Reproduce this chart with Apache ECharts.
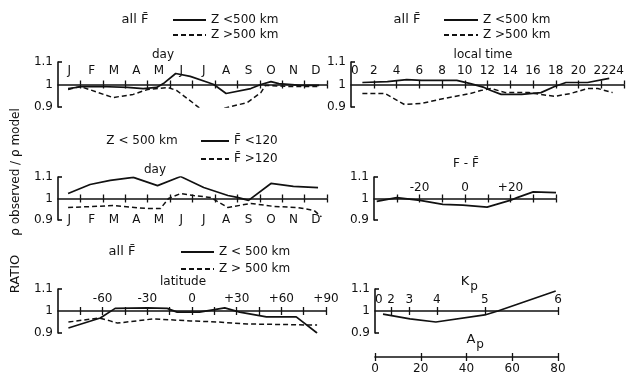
<!DOCTYPE html>
<html><head><meta charset="utf-8">
<script src="https://cdn.jsdelivr.net/npm/echarts@6/dist/echarts.min.js"></script>
<style>html,body{margin:0;padding:0;background:#fff}#c{width:627px;height:377px}</style>
</head><body><div id="c"></div>
<script>
// ---------- tick labels ----------
const monthNames = ['J','F','M','A','M','J','J','A','S','O','N','D'];
const monthLabelPos = [0.5,1.5,2.5,3.5,4.5,5.5,6.5,7.5,8.5,9.5,10.5,11.5];
const monthTickPos = [1,2,3,4,5,6,7,8,9,10,11,12];
const hourLabels = [0,2,4,6,8,10,12,14,16,18,20,22,24];
const hourTicks = [2,4,6,8,10,12,14,16,18,20,22,24];
const dfLabels = [-20,0,20];
const dfTicks = [-30,-20,-10,0,10,20,30,40];
const latLabels = [-60,-30,0,30,60,90];
const latTicks = [-75,-60,-45,-30,-15,0,15,30,45,60,75,90];
const kpTickAp = [0,7,15,27,48,80];
const kpTickText = ['0','2','3','4','5','6'];
const apLabels = [0,20,40,60,80];

// ---------- data (ratio rho observed / rho model) ----------
// Panel A: day of year (months), all F-bar
const dayLowAX = [0.45,1.12,1.88,3.1,3.8,4.4,4.7,5.25,5.9,6.7,6.95,7.5,8.6,9.05,9.5,9.85,10.85,11.65];
const dayLowAY = [0.982,0.991,0.991,0.987,0.982,0.987,1.004,1.049,1.036,1.009,1.0,0.96,0.982,1.0,1.013,1.004,0.996,0.996];
const dayHighAX = [0.45,1.0,2.45,3.35,4.0,4.9,5.3,6.0,6.55,7.35,8.45,9.05,9.25,10.4,11.65];
const dayHighAY = [0.978,0.991,0.942,0.956,0.978,0.987,0.973,0.92,0.876,0.893,0.92,0.964,0.996,0.991,0.991];
// Panel B: local time
const ltLowX = [1.0,3.2,4.9,6.2,9.3,10.5,11.7,12.3,13.2,15.0,16.7,17.9,18.9,20.8,22.7];
const ltLowY = [1.009,1.013,1.022,1.018,1.018,1.004,0.987,0.973,0.956,0.956,0.964,0.991,1.009,1.009,1.027];
const ltHighX = [1.0,3.0,4.7,6.2,8.2,10.5,11.4,12.3,13.6,15.6,17.9,19.3,20.8,21.7,23.0];
const ltHighY = [0.96,0.96,0.911,0.916,0.938,0.96,0.973,0.982,0.964,0.964,0.947,0.96,0.982,0.982,0.964];
// Panel C: day, Z < 500 km, split by F-bar
const fLowX = [0.45,1.43,2.33,3.36,4.44,5.47,6.5,7.58,8.0,8.5,9.5,10.5,11.6];
const fLowY = [1.023,1.065,1.084,1.098,1.06,1.102,1.051,1.014,1.005,0.991,1.07,1.056,1.051];
const fHighX = [0.45,2.47,4.0,4.57,4.93,5.47,6.05,6.8,7.58,8.6,9.64,10.7,11.43,11.75];
const fHighY = [0.958,0.967,0.953,0.953,1.0,1.023,1.014,1.005,0.958,0.977,0.963,0.958,0.944,0.915];
// Panel D: F - F-bar
const dfX = [-38.8,-30,-19.8,-9.7,-0.9,9.7,19.8,22.9,30,40];
const dfY = [0.987,1.004,0.991,0.973,0.969,0.96,0.991,1.004,1.031,1.027];
// Panel E: latitude
const latLowX = [-83,-61.6,-51.6,-30,-16.7,-10,5,14,22,32,50,70,84];
const latLowY = [0.923,0.968,1.012,1.014,1.012,0.995,0.995,1.005,1.014,0.995,0.973,0.973,0.9];
const latHighX = [-83,-62,-55,-50,-26,-1,17,37,84];
const latHighY = [0.95,0.968,0.955,0.945,0.964,0.955,0.95,0.941,0.936];
// Panel F: Kp / Ap
const apX = [3.5,15.3,26.6,48,53.7,79];
const apY = [0.986,0.964,0.95,0.982,1.0,1.091];

// ---------- build ----------
const FONT = 'DejaVu Sans', INK = '#111';
const grids = [], xAxes = [], yAxes = [], series = [];
const zip = (xs, ys) => xs.map((x, i) => [x, ys[i]]);

function crossAxes(gi, min, max, off, ticks, lbl) {
  const main = xAxes.length;
  xAxes.push({
    type: 'value', gridIndex: gi, min: min, max: max, position: 'bottom', offset: off,
    axisLine: {show: true, onZero: false, lineStyle: {color: INK, width: 1.6}},
    axisTick: {show: true, inside: false, length: 4, customValues: ticks, lineStyle: {color: INK, width: 1.3}},
    axisLabel: Object.assign({show: !!lbl, color: INK, fontFamily: FONT, fontSize: 12,
      showMinLabel: true, showMaxLabel: true, hideOverlap: false}, lbl || {}),
    splitLine: {show: false}
  });
  xAxes.push({
    type: 'value', gridIndex: gi, min: min, max: max, position: 'bottom', offset: off,
    axisLine: {show: false, onZero: false},
    axisTick: {show: true, inside: true, length: 4, customValues: ticks, lineStyle: {color: INK, width: 1.3}},
    axisLabel: {show: false}, splitLine: {show: false}
  });
  return main;
}

function panel(g, x) {
  const gi = grids.length; grids.push(g);
  const xi = crossAxes(gi, x.min, x.max, -g.height / 2, x.ticks, x.label);
  const yi = yAxes.length;
  yAxes.push({
    type: 'value', gridIndex: gi, min: 0.9, max: 1.1, interval: 0.1, position: 'left',
    axisLine: {show: true, onZero: false, lineStyle: {color: INK, width: 1.6}},
    axisTick: {show: true, inside: true, length: 4, customValues: [0.9, 1.1], lineStyle: {color: INK, width: 1.6}},
    axisLabel: {color: INK, fontFamily: FONT, fontSize: 12, margin: 5,
      formatter: v => Math.abs(v - 1) < 1e-9 ? '1' : v.toFixed(1)},
    splitLine: {show: false}
  });
  return {gi: gi, x: xi, y: yi};
}

function line(p, name, data, dashed) {
  series.push({
    type: 'line', name: name, xAxisIndex: p.x, yAxisIndex: p.y, data: data,
    symbol: 'none', silent: true, animation: false,
    lineStyle: {color: INK, width: dashed ? 1.5 : 1.7, type: dashed ? [5, 3] : 'solid'},
    itemStyle: {color: INK}
  });
}

const monthFmt = v => monthNames[Math.floor(v)];
const signFmt = v => v > 0 ? '+' + v : String(v);

const pA = panel({left: 58, top: 62, width: 269, height: 45},
  {min: 0, max: 12, ticks: monthTickPos, label: {inside: true, margin: 8, customValues: monthLabelPos, formatter: monthFmt}});
const pB = panel({left: 351, top: 62, width: 276, height: 45},
  {min: 0, max: 24, ticks: hourTicks, label: {inside: true, margin: 8, customValues: hourLabels, alignMinLabel: 'left', alignMaxLabel: 'right'}});
const pC = panel({left: 58, top: 177, width: 269, height: 43},
  {min: 0, max: 12, ticks: monthTickPos, label: {inside: false, margin: 15, customValues: monthLabelPos, formatter: monthFmt}});
const pD = panel({left: 374, top: 177, width: 182, height: 43},
  {min: -40, max: 40, ticks: dfTicks, label: {inside: true, margin: 5, customValues: dfLabels, formatter: signFmt}});
const pE = panel({left: 58, top: 289, width: 268, height: 44},
  {min: -90, max: 90, ticks: latTicks, label: {inside: true, margin: 6, customValues: latLabels, formatter: signFmt}});
const pF = panel({left: 375, top: 289, width: 183, height: 44},
  {min: 0, max: 80, ticks: kpTickAp.slice(1), label: {inside: true, margin: 5, customValues: kpTickAp, alignMinLabel: 'left',
    formatter: v => kpTickText[kpTickAp.indexOf(v)]}});
// Ap scale below the Kp panel (same scale)
crossAxes(pF.gi, 0, 80, 24, apLabels, {inside: false, margin: 6, customValues: apLabels});

line(pA, 'Z <500 km', zip(dayLowAX, dayLowAY), false);
line(pA, 'Z >500 km', zip(dayHighAX, dayHighAY), true);
line(pB, 'Z <500 km', zip(ltLowX, ltLowY), false);
line(pB, 'Z >500 km', zip(ltHighX, ltHighY), true);
line(pC, 'F\u0304 <120', zip(fLowX, fLowY), false);
line(pC, 'F\u0304 >120', zip(fHighX, fHighY), true);
line(pD, 'F - F\u0304', zip(dfX, dfY), false);
line(pE, 'Z < 500 km', zip(latLowX, latLowY), false);
line(pE, 'Z > 500 km', zip(latHighX, latHighY), true);
line(pF, 'Kp', zip(apX, apY), false);

const legTxt = {color: INK, fontFamily: FONT, fontSize: 12};
function legend(left, top, w, gap, names) {
  return {left: left, top: top, orient: 'vertical', itemWidth: w, itemHeight: 10, itemGap: gap,
    selectedMode: false, data: names, textStyle: legTxt, padding: 0,
    itemStyle: {opacity: 0, borderWidth: 0}};
}

const txt = (x, y, s, size, extra) => Object.assign({type: 'text', x: x, y: y, silent: true,
  style: {text: s, fill: INK, font: (size || 12) + 'px "' + FONT + '"', align: 'center', verticalAlign: 'middle'}}, extra || {});

const chart = echarts.init(document.getElementById('c'), null, {renderer: 'canvas'});
chart.setOption({
  animation: false,
  backgroundColor: '#fff',
  grid: grids,
  xAxis: xAxes,
  yAxis: yAxes,
  series: series,
  legend: [
    legend(172, 14, 33, 3, ['Z <500 km', 'Z >500 km']),
    legend(443, 14, 34, 3, ['Z <500 km', 'Z >500 km']),
    legend(200, 135, 28, 6, ['F\u0304 <120', 'F\u0304 >120']),
    legend(180, 246, 33, 5, ['Z < 500 km', 'Z > 500 km'])
  ],
  graphic: [
    txt(135, 20, 'all F\u0304', 13),
    txt(407, 20, 'all F\u0304', 13),
    txt(142, 141, 'Z < 500 km', 12),
    txt(122, 252, 'all F\u0304', 13),
    txt(163, 55, 'day', 12),
    txt(483, 55, 'local time', 12),
    txt(155, 170, 'day', 12),
    txt(466, 164, 'F - F\u0304', 12),
    txt(183, 282, 'latitude', 12),
    txt(465, 282, 'K', 13),
    txt(474, 287, 'p', 12),
    txt(471, 340, 'A', 13),
    txt(480, 345, 'p', 12),
    txt(16, 172, '\u03c1 observed / \u03c1 model', 12, {rotation: Math.PI / 2}),
    txt(16, 274, 'RATIO', 13, {rotation: Math.PI / 2})
  ]
});
</script>
</body></html>
